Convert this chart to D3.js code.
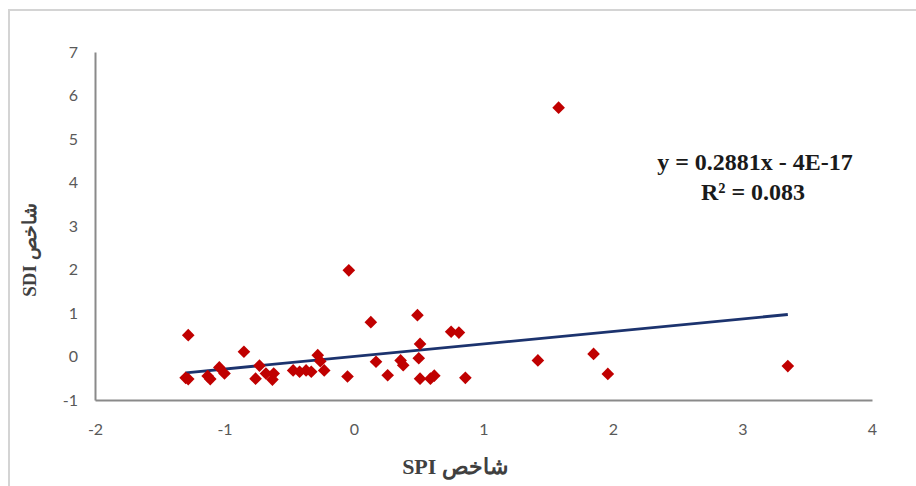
<!DOCTYPE html>
<html>
<head>
<meta charset="utf-8">
<script src="https://cdn.jsdelivr.net/npm/d3@7/dist/d3.min.js"></script>
<style>
  html, body { margin: 0; padding: 0; background: #fff; }
  svg { display: block; }
</style>
</head>
<body>
<svg id="chart" width="916" height="486"></svg>
<script>
// ---- data ----
const spi = [1.58, -0.04, 0.13, 0.49, 0.75, 0.81, -1.28, -0.85, 0.51, 0.50,
             -0.28, -0.26, 0.17, 0.36, 0.38, 1.42, 1.85, 1.96, 3.35, 0.86,
             0.51, 0.59, 0.62, -0.05, 0.26, -0.23, -0.33, -0.37, -0.42, -0.47,
             -0.62, -0.63, -0.68, -0.73, -0.76, -1.00, -1.04, -1.11, -1.13, -1.28, -1.30];
const sdi = [5.72, 1.98, 0.79, 0.95, 0.57, 0.55, 0.49, 0.11, 0.29, -0.04,
             0.03, -0.11, -0.12, -0.09, -0.20, -0.09, 0.06, -0.40, -0.22, -0.49,
             -0.51, -0.51, -0.44, -0.46, -0.43, -0.32, -0.35, -0.32, -0.35, -0.32,
             -0.39, -0.53, -0.39, -0.21, -0.51, -0.39, -0.25, -0.52, -0.45, -0.52, -0.49];
const xTicks = [-2, -1, 0, 1, 2, 3, 4];
const yTicks = [-1, 0, 1, 2, 3, 4, 5, 6, 7];
const slope = 0.2881;
const intercept = -4e-17;
const equationText = "y = 0.2881x - 4E-17";
const r2Text = "R² = 0.083";
const xTitle = "شاخص SPI";
const yTitle = "شاخص SDI";

// ---- layout ----
const svg = d3.select("#chart");
const x = d3.scaleLinear().domain([-2, 4]).range([95, 872]);
const y = d3.scaleLinear().domain([-1, 7]).range([400, 52]);

// outer chart border (only top/left visible in the crop)
svg.append("path")
  .attr("d", "M9,486 L9,10 L916,10")
  .attr("fill", "none").attr("stroke", "#d4d4d4").attr("stroke-width", 2);

// axes
const fmt = d => d3.format("d")(d).replace("−", "-");
const xAxis = d3.axisBottom(x).tickValues(xTicks).tickSize(0).tickPadding(24).tickFormat(fmt);
const yAxis = d3.axisLeft(y).tickValues(yTicks).tickSize(0).tickPadding(17).tickFormat(fmt);

const gx = svg.append("g").attr("transform", `translate(0,${y(-1)})`).call(xAxis);
const gy = svg.append("g").attr("transform", `translate(${x(-2)},0)`).call(yAxis);
[gx, gy].forEach(g => {
  g.select(".domain").attr("stroke", "#8a8a8a").attr("stroke-width", 2);
  g.selectAll("text").attr("fill", "#595959")
    .style("font-family", "Lato, 'Open Sans', sans-serif").style("font-size", "16px");
});

// trendline
const xmin = d3.min(spi), xmax = d3.max(spi);
svg.append("line")
  .attr("x1", x(xmin)).attr("y1", y(slope * xmin + intercept))
  .attr("x2", x(xmax)).attr("y2", y(slope * xmax + intercept))
  .attr("stroke", "#1c336e").attr("stroke-width", 2.8);

// points (diamonds)
const diamond = d3.symbol().type(d3.symbolSquare).size(80);
svg.append("g").selectAll("path").data(spi.map((v, i) => [v, sdi[i]])).join("path")
  .attr("d", diamond)
  .attr("transform", d => `translate(${x(d[0])},${y(d[1])}) rotate(45)`)
  .attr("fill", "#c00000");

// equation text
const eq = svg.append("g")
  .style("font-family", "'Liberation Serif', 'Times New Roman', serif")
  .style("font-weight", "bold").style("font-size", "24px").attr("fill", "#1a1a1a");
eq.append("text").attr("x", 755).attr("y", 170).attr("text-anchor", "middle").text(equationText);
eq.append("text").attr("x", 753).attr("y", 200).attr("text-anchor", "middle").text(r2Text);

// axis titles
svg.append("text")
  .attr("x", 455).attr("y", 474).attr("text-anchor", "middle").attr("direction", "rtl")
  .style("font-family", "'Liberation Serif', 'DejaVu Serif', serif")
  .style("font-weight", "bold").style("font-size", "22px").attr("fill", "#404040")
  .text(xTitle);
svg.append("text")
  .attr("transform", "translate(36,250) rotate(-90)")
  .attr("text-anchor", "middle").attr("direction", "rtl")
  .style("font-family", "'Liberation Serif', 'DejaVu Serif', serif")
  .style("font-weight", "bold").style("font-size", "19px").attr("fill", "#404040")
  .text(yTitle);
</script>
</body>
</html>
